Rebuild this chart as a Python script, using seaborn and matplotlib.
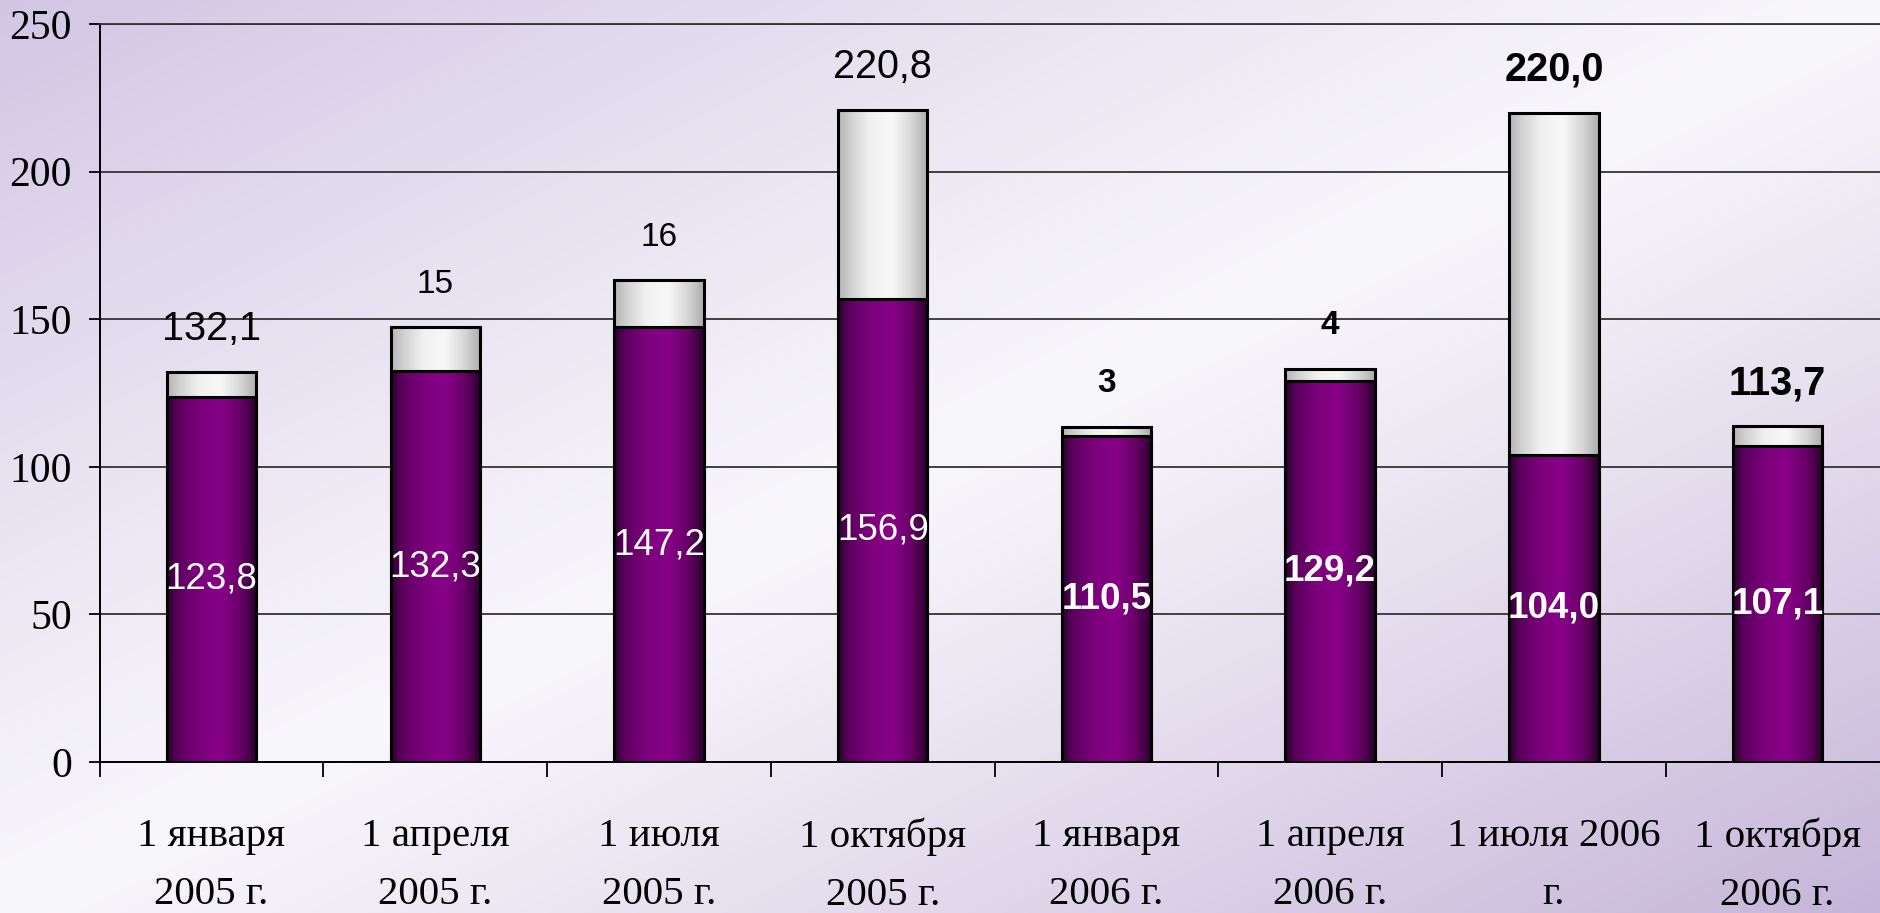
import numpy as np
import pandas as pd
import matplotlib
matplotlib.use("Agg")
import matplotlib.pyplot as plt
from matplotlib.colors import LinearSegmentedColormap
import seaborn as sns

# ---- data ----
categories = ["1 января\n2005 г.", "1 апреля\n2005 г.", "1 июля\n2005 г.", "1 октября\n2005 г.",
              "1 января\n2006 г.", "1 апреля\n2006 г.", "1 июля 2006\nг.", "1 октября\n2006 г."]
bottom_values = [123.8, 132.3, 147.2, 156.9, 110.5, 129.2, 104.0, 107.1]
top_values = [8.3, 15.0, 16.0, 63.9, 3.0, 4.0, 116.0, 6.6]
top_labels = ["132,1", "15", "16", "220,8", "3", "4", "220,0", "113,7"]
y_ticks = [0, 50, 100, 150, 200, 250]

totals = [b + t for b, t in zip(bottom_values, top_values)]
df = pd.DataFrame({"cat": categories, "bottom": bottom_values, "total": totals})

sns.set_theme(style="white")
plt.rcParams["font.family"] = ["Liberation Sans", "DejaVu Sans"]

W, H = 1881, 913
fig = plt.figure(figsize=(W / 100, H / 100), dpi=100)

# background gradient
bg = fig.add_axes([0, 0, 1, 1], zorder=-10)
u = np.linspace(0, 1, 400)[None, :]
v = np.linspace(0, 1, 200)[:, None]
t = np.clip(np.abs(u + v - 1.0), 0, 1) ** 1.1
white = np.array([248, 247, 251]) / 255
lav_tl = np.array([210, 198, 228]) / 255
lav_br = np.array([198, 181, 217]) / 255
corner = np.where((u + v - 1.0)[..., None] < 0, lav_tl, lav_br)
img = white * (1 - t[..., None]) + corner * t[..., None]
bg.imshow(img, aspect="auto", extent=[0, 1, 0, 1], origin="upper", interpolation="bicubic")
bg.set_axis_off()

ax = fig.add_axes([0.053, 0.1654, 0.9515, 0.8083])
ax.set_facecolor("none")

sns.barplot(data=df, x="cat", y="total", color="#e8e8e8", width=0.4, saturation=1,
            errorbar=None, ax=ax, edgecolor="black", linewidth=2.2)
sns.barplot(data=df, x="cat", y="bottom", color="#800080", width=0.4, saturation=1,
            errorbar=None, ax=ax, edgecolor="black", linewidth=2.2)

purple_cmap = LinearSegmentedColormap.from_list(
    "pur", [(0, "#2a002e"), (0.12, "#5c005e"), (0.35, "#7b007b"), (0.6, "#880088"),
            (0.82, "#680068"), (1, "#2a002c")])
grey_cmap = LinearSegmentedColormap.from_list(
    "gr", [(0, "#b4b4b4"), (0.15, "#d2d2d2"), (0.35, "#f0f0f0"), (0.6, "#f8f8f8"),
           (0.82, "#d6d6d6"), (1, "#acacac")])

n = len(categories)
grad = np.linspace(0, 1, 256).reshape(1, -1)
for k, p in enumerate(ax.patches):
    cmap = grey_cmap if k < n else purple_cmap
    z = 2 if k < n else 3
    x0, y0, w, h = p.get_x(), p.get_y(), p.get_width(), p.get_height()
    im = ax.imshow(grad, cmap=cmap, extent=[x0, x0 + w, y0, y0 + h], aspect="auto",
                   zorder=z, interpolation="bicubic")
    im.set_clip_path(p)
    p.set_facecolor("none")
    p.set_zorder(z + 0.1)

ax.set_xlim(-0.5, n - 0.5)
ax.set_ylim(0, 250)
ax.set_yticks(y_ticks)
ax.set_xlabel("")
ax.set_ylabel("")

# grid & spines
ax.grid(axis="y", color="#333333", linewidth=1.3)
ax.grid(axis="x", visible=False)
ax.set_axisbelow(True)
ax.spines["right"].set_visible(False)
ax.spines["top"].set_color("#333333")
ax.spines["top"].set_linewidth(1.3)
for s in ["left", "bottom"]:
    ax.spines[s].set_color("black")
    ax.spines[s].set_linewidth(1.4)

serif = ["Liberation Serif", "DejaVu Serif"]
ax.tick_params(axis="y", which="major", left=True, length=8, width=1.3, color="black",
               pad=12, labelsize=30, labelcolor="black")
for lab in ax.get_yticklabels():
    lab.set_family(serif)
ax.tick_params(axis="x", which="major", length=0, pad=40, labelsize=29.5, labelcolor="black")
ax.set_xticks(range(n))
ax.set_xticklabels(categories, family=serif, linespacing=1.75, fontsize=29.5)
ax.set_xticks(np.arange(-0.5, n, 1.0), minor=True)
ax.tick_params(axis="x", which="minor", bottom=True, length=11, width=1.3, color="black")

# labels
bold_flags = [False, False, False, False, True, True, True, True]
for i in range(n):
    wt = "bold" if bold_flags[i] else "normal"
    txt = f"{bottom_values[i]:.1f}".replace(".", ",")
    ax.text(i, bottom_values[i] / 2, txt, ha="center", va="center", color="white",
            fontsize=26.5, fontweight=wt, zorder=6)
    big = "," in top_labels[i]
    ax.annotate(top_labels[i], xy=(i, totals[i]), xytext=(0, 31), textcoords="offset points",
                ha="center", va="center", color="black",
                fontsize=28.5 if big else 24, fontweight=wt, zorder=6)

fig.savefig("out.png", dpi=100)
